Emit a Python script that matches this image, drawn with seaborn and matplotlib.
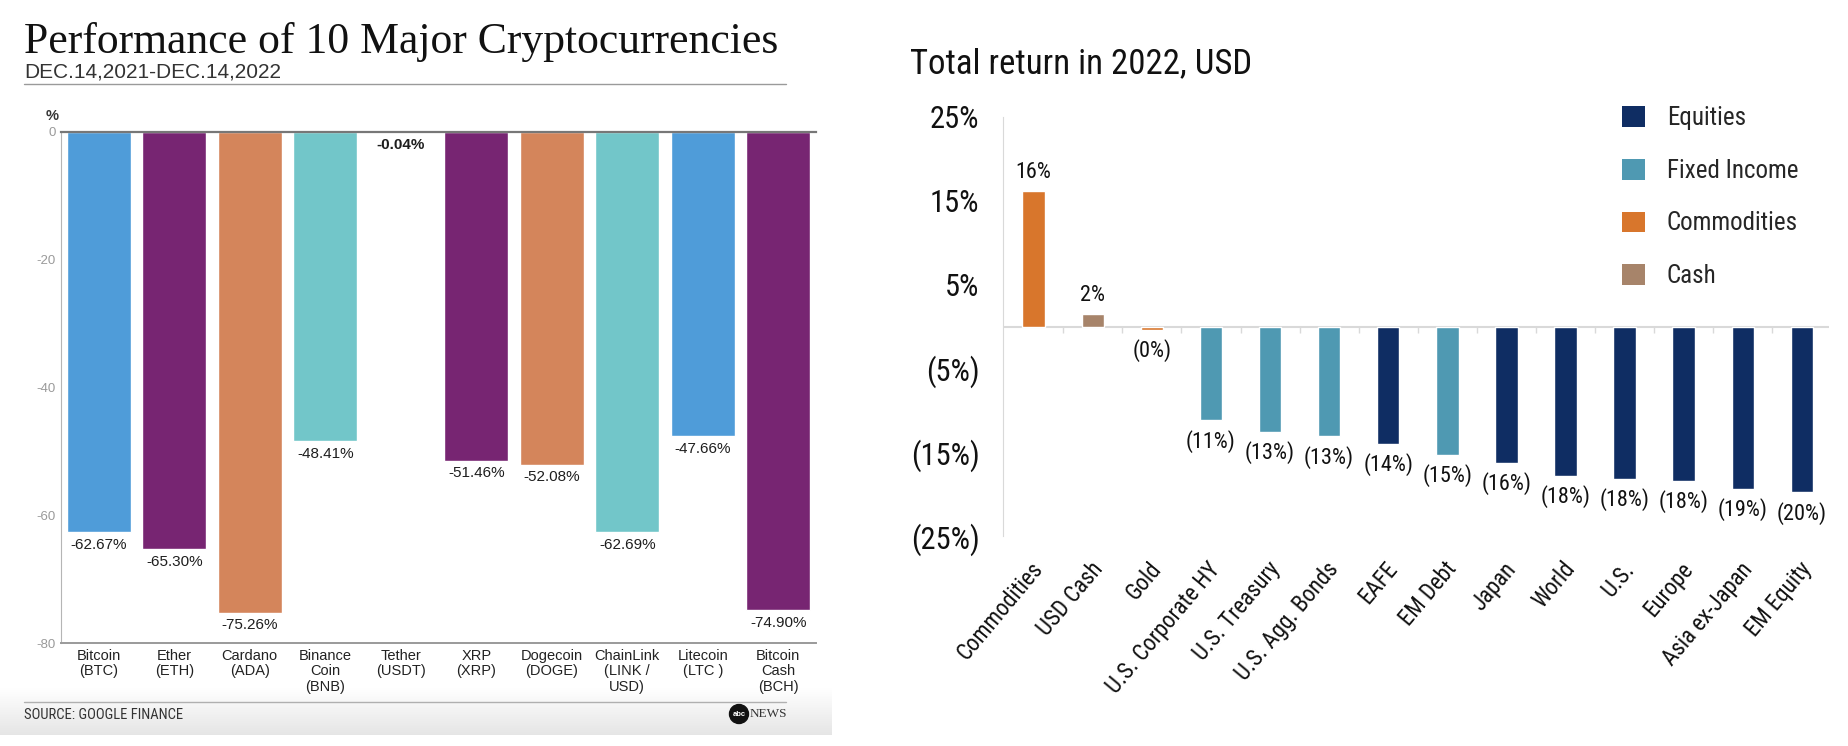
import numpy as np
import pandas as pd
import matplotlib
matplotlib.use('Agg')
import matplotlib.pyplot as plt
import seaborn as sns
from matplotlib import font_manager
from matplotlib.patches import Patch, Circle
from matplotlib.lines import Line2D
from matplotlib.transforms import ScaledTranslation

# ---- left chart: crypto performance ----
coins = ['Bitcoin\n(BTC)', 'Ether\n(ETH)', 'Cardano\n(ADA)', 'Binance\nCoin\n(BNB)', 'Tether\n(USDT)',
         'XRP\n(XRP)', 'Dogecoin\n(DOGE)', 'ChainLink\n(LINK /\nUSD)', 'Litecoin\n(LTC )', 'Bitcoin\nCash\n(BCH)']
coin_change = [-62.67, -65.30, -75.26, -48.41, -0.04, -51.46, -52.08, -62.69, -47.66, -74.90]
coin_colors = ['#4f9cd9', '#772572', '#d4855b', '#72c6c9', '#72c6c9',
               '#772572', '#d4855b', '#72c6c9', '#4f9cd9', '#772572']
coin_yticks = [0, -20, -40, -60, -80]

# ---- right chart: total return 2022 ----
assets = ['Commodities', 'USD Cash', 'Gold', 'U.S. Corporate HY', 'U.S. Treasury', 'U.S. Agg. Bonds',
          'EAFE', 'EM Debt', 'Japan', 'World', 'U.S.', 'Europe', 'Asia ex-Japan', 'EM Equity']
returns = [16.2, 1.5, -0.4, -11.2, -12.6, -13.1, -14.0, -15.3, -16.3, -17.8, -18.2, -18.4, -19.4, -19.8]
asset_class = ['Commodities', 'Cash', 'Commodities', 'Fixed Income', 'Fixed Income', 'Fixed Income',
               'Equities', 'Fixed Income', 'Equities', 'Equities', 'Equities', 'Equities', 'Equities', 'Equities']
class_order = ['Equities', 'Fixed Income', 'Commodities', 'Cash']
class_colors = {'Equities': '#0f2d63', 'Fixed Income': '#4f99b2', 'Commodities': '#d8762c', 'Cash': '#a7846a'}
ret_yticks = [25, 15, 5, -5, -15, -25]

sns.set_style('white')
avail = {f.name for f in font_manager.fontManager.ttflist}
NARROW = 'DejaVu Sans'
for cand in ['Liberation Sans Narrow', 'Roboto Condensed', 'Open Sans Condensed']:
    if cand in avail:
        NARROW = cand
        break
plt.rcParams['font.family'] = ['Liberation Sans', 'DejaVu Sans']

W, H = 1848, 746
fig = plt.figure(figsize=(W / 100, H / 100), dpi=100)

def fx(px):
    return px / W

def fy(py):
    return 1 - py / H

# light grey fade at the bottom of the left panel
bg = fig.add_axes([0, fy(735), fx(832), (735 - 688) / H], zorder=-5)
grad = np.linspace(1.0, 0.90, 50).reshape(-1, 1)
bg.imshow(np.dstack([grad, grad, grad]), aspect='auto', extent=[0, 1, 0, 1], origin='upper')
bg.axis('off')

# ---------------- left panel ----------------
ax1 = fig.add_axes([fx(61), fy(643), fx(816 - 61), (643 - 132) / H])
sns.barplot(x=coins, y=coin_change, hue=coins, palette=coin_colors, width=0.85,
            saturation=1, legend=False, ax=ax1)
ax1.set_xlim(-0.5, 9.5)
ax1.set_ylim(-80, 0)
ax1.set_yticks(coin_yticks)
ax1.set_yticklabels([str(v) for v in coin_yticks], color='#9a9a9a', fontsize=9.5)
ax1.tick_params(axis='y', length=0, pad=4)
ax1.tick_params(axis='x', length=0, pad=4, labelsize=10.5, labelcolor='#222222')
for lab in ax1.get_xticklabels():
    lab.set_linespacing(1.15)
ax1.set_xlabel('')
ax1.set_ylabel('')
ax1.spines['right'].set_visible(False)
ax1.spines['top'].set_color('#777777')
ax1.spines['top'].set_linewidth(1.6)
ax1.spines['left'].set_color('#b5b5b5')
ax1.spines['bottom'].set_color('#9a9a9a')
ax1.spines['bottom'].set_linewidth(1.4)

for i, v in enumerate(coin_change):
    ax1.annotate(f'{v:.2f}%', (i, v), xytext=(0, -9), textcoords='offset points',
                 ha='center', va='center', fontsize=11, color='#1e1e1e',
                 weight='bold' if v > -1 else 'normal')

fig.text(fx(24), fy(53), 'Performance of 10 Major Cryptocurrencies', fontsize=31.5,
         family=['Liberation Serif', 'DejaVu Serif'], color='#111111', va='baseline')
fig.text(fx(24), fy(78), 'DEC.14,2021-DEC.14,2022', fontsize=15, color='#333333', va='baseline')
fig.add_artist(Line2D([fx(24), fx(786)], [fy(84), fy(84)], color='#9a9a9a', lw=1))
fig.text(fx(46), fy(120), '%', fontsize=10.5, weight='bold', color='#333333', va='baseline')
fig.add_artist(Line2D([fx(24), fx(786)], [fy(702), fy(702)], color='#b0b0b0', lw=1))
fig.text(fx(24), fy(715), 'SOURCE: GOOGLE FINANCE', fontsize=10.5, family=[NARROW, 'DejaVu Sans'],
         color='#333333', va='center')
fig.add_artist(Circle((739 / 100, (H - 714) / 100), 0.095, transform=fig.dpi_scale_trans,
                      color='#111111'))
fig.text(fx(739), fy(714), 'abc', fontsize=5.5, weight='bold', color='white', ha='center', va='center')
fig.text(fx(750), fy(714), 'NEWS', fontsize=9.5, family=['Liberation Serif', 'DejaVu Serif'],
         color='#333333', va='center')

# ---------------- right panel ----------------
df = pd.DataFrame({'asset': assets, 'ret': returns, 'cls': asset_class})
ax2 = fig.add_axes([fx(1003), fy(536), fx(1829 - 1003), (536 - 117) / H])
ax2.axhline(0, color='#d9d9d9', lw=1.5, zorder=0)
ax2.vlines(np.arange(len(assets) - 1) + 0.5, -0.8, 0, color='#d9d9d9', lw=1, zorder=0)
sns.barplot(data=df, x='asset', y='ret', hue='cls', order=assets, hue_order=class_order,
            palette=class_colors, dodge=False, width=0.38, saturation=1, legend=False, ax=ax2)
ax2.set_xlim(-0.52, 13.46)
ax2.set_ylim(-25, 25)
ax2.set_yticks(ret_yticks)
ax2.set_yticklabels([f'{v}%' if v > 0 else f'({-v}%)' for v in ret_yticks],
                    fontsize=22, family=[NARROW, 'DejaVu Sans'], color='#111111')
ax2.tick_params(axis='y', length=6, width=1, color='#cfcfcf', pad=11)
ax2.tick_params(axis='x', length=0, pad=21)
ax2.set_xticks(range(len(assets)))
ax2.set_xticklabels(assets, rotation=50, ha='right', va='center', rotation_mode='anchor',
                    fontsize=16.5, family=[NARROW, 'DejaVu Sans'], color='#111111')
shift = ScaledTranslation(4 / 72, 0, fig.dpi_scale_trans)
for lab in ax2.get_xticklabels():
    lab.set_transform(lab.get_transform() + shift)
ax2.set_xlabel('')
ax2.set_ylabel('')
for s in ['top', 'right', 'bottom']:
    ax2.spines[s].set_visible(False)
ax2.spines['left'].set_color('#d9d9d9')

for i, v in enumerate(returns):
    txt = f'{abs(v):.0f}%' if v > 0 else f'({abs(v):.0f}%)'
    off = 13 if v > 0 else -15
    ax2.annotate(txt, (i, v), xytext=(0, off), textcoords='offset points', ha='center', va='center',
                 fontsize=16, family=[NARROW, 'DejaVu Sans'], color='#111111')

fig.text(fx(910), fy(73), 'Total return in 2022, USD', fontsize=25, family=[NARROW, 'DejaVu Sans'],
         color='#111111', va='baseline')

handles = [Patch(facecolor=class_colors[c], edgecolor='none') for c in class_order]
fig.legend(handles, class_order, loc='upper left', bbox_to_anchor=(fx(1622), fy(106)), frameon=False,
           prop={'family': [NARROW, 'DejaVu Sans'], 'size': 18}, handlelength=0.9, handleheight=0.9,
           handletextpad=0.9, labelspacing=1.15, borderpad=0, borderaxespad=0)

fig.savefig('out.png', dpi=100)
